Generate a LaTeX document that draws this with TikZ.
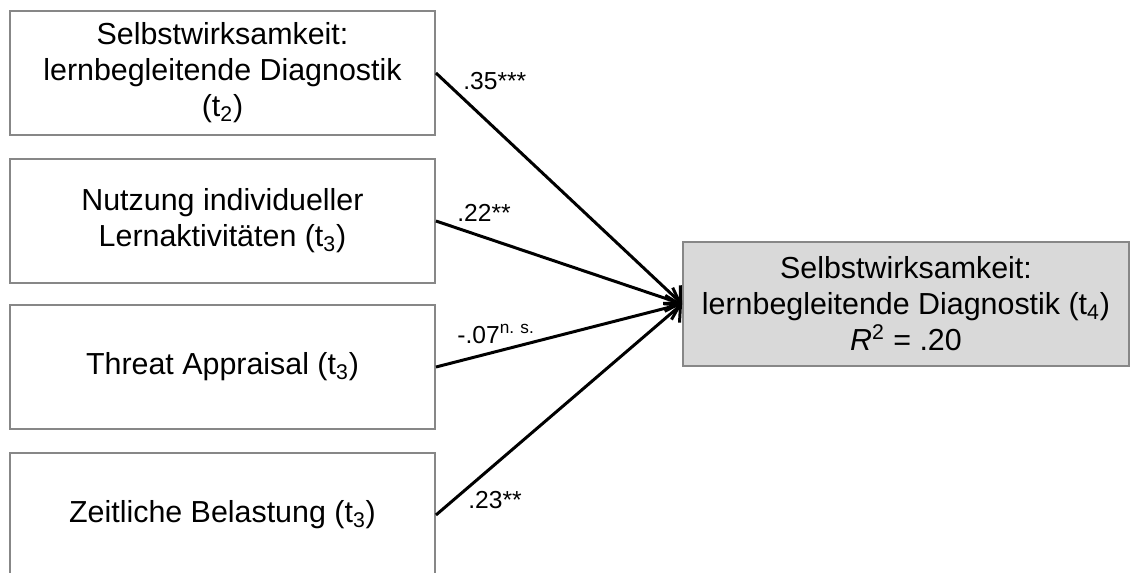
\documentclass[tikz,border=0pt]{standalone}
\usepackage{fontspec}
\setmainfont{Liberation Sans}
\usetikzlibrary{arrows.meta}

\begin{document}
\begin{tikzpicture}[>={Straight Barb[length=2.4mm,width=5mm]},
    predictor/.style={draw=black!47,line width=1.1pt,minimum width=8.5cm,minimum height=2.48cm,
      inner sep=0pt,align=center,font=\fontsize{17.3}{20.5}\selectfont},
    outcome/.style={predictor,fill=black!15,minimum width=8.92cm},
    effect/.style={->,line width=1.7pt},
    coef/.style={anchor=base west,inner sep=0pt,font=\fontsize{14}{16}\selectfont}]
          \useasboundingbox (0,0) rectangle (22.6,-11.46);

          % predictors (left column)
          \node[predictor] (sw2) at (4.45,-1.46) {Selbstwirksamkeit:\\lernbegleitende Diagnostik\\(t\textsubscript{2})};
          \node[predictor] (nutz) at (4.45,-4.42) {Nutzung individueller\\Lernaktivit\"aten (t\textsubscript{3})};
          \node[predictor] (threat) at (4.45,-7.34) {Threat Appraisal (t\textsubscript{3})};
          \node[predictor] (zeit) at (4.45,-10.30) {Zeitliche Belastung (t\textsubscript{3})};

          % criterion
          \node[outcome] (sw4) at (18.12,-6.08) {Selbstwirksamkeit:\\lernbegleitende Diagnostik (t\textsubscript{4})\\\textit{R}\textsuperscript{2} = .20};

          \draw[effect] (sw2.east) -- (sw4.west);
          \draw[effect] (nutz.east) -- (sw4.west);
          \draw[effect] (threat.east) -- (sw4.west);
          \draw[effect] (zeit.east) -- (sw4.west);

          \node[coef] (b1) at (9.26,-1.78) {.35***};
          \node[coef] (b2) at (9.14,-4.42) {.22**};
          \node[coef] (b3) at (9.14,-6.86) {-.07\textsuperscript{n. s.}};
          \node[coef] (b4) at (9.36,-10.16) {.23**};
        \end{tikzpicture}
\end{document}
